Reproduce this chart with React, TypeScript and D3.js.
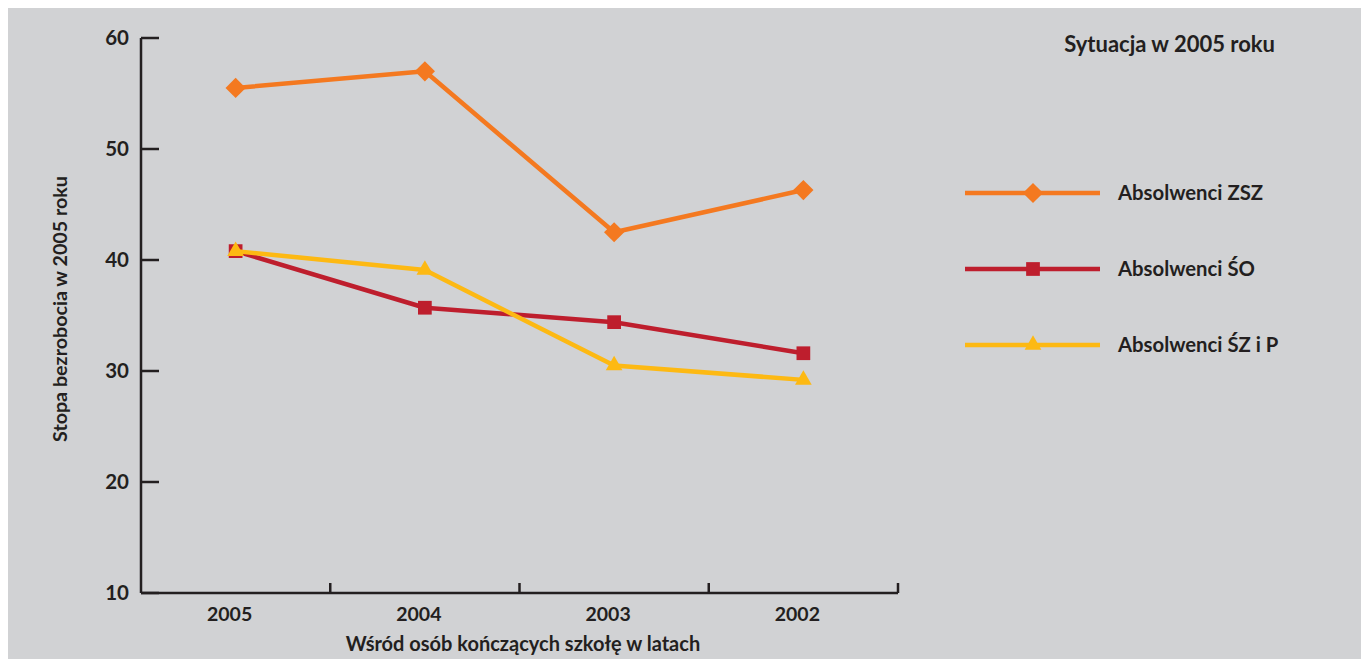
import React from "react";
import * as d3 from "d3";

const categories = ["2005", "2004", "2003", "2002"];
const yTicks = [10, 20, 30, 40, 50, 60];
const seriesNames = ["Absolwenci ZSZ", "Absolwenci ŚO", "Absolwenci ŚZ i P"];
const valuesZSZ = [55.5, 57.0, 42.5, 46.3];
const valuesSO = [40.8, 35.7, 34.4, 31.6];
const valuesSZP = [40.8, 39.1, 30.5, 29.2];
const colors = ["#f47920", "#be1e2d", "#fdb913"];
const symbols = [d3.symbolDiamond2, d3.symbolSquare2, d3.symbolTriangle2];

const W = 1361;
const H = 652;
const FONT = "Lato, 'Open Sans', sans-serif";
const INK = "#231f20";

export default function App() {
  // svg origin at page (8,7)
  const ox = 8, oy = 7;
  const x0 = 141 - ox, x1 = 898 - ox;
  const x = d3.scaleBand<string>().domain(categories).range([x0, x1]);
  const y = d3.scaleLinear().domain([10, 60]).range([593 - oy, 38 - oy]);
  const series = [valuesZSZ, valuesSO, valuesSZP];
  const line = d3
    .line<number>()
    .x((_, i) => (x(categories[i]) as number) + x.bandwidth() / 2)
    .y((v) => y(v));
  const symSizes = [260, 240, 200];
  const legendY = [193 - oy, 269 - oy, 345 - oy];
  return (
    <svg width={W} height={H} style={{ display: "block", marginTop: -1 }} fontFamily={FONT}>
      <rect x={0} y={0} width={W} height={H} fill="#d1d2d4" />
      {/* y axis */}
      <line x1={x0} x2={x0} y1={y(60)} y2={y(10)} stroke={INK} strokeWidth={2.5} />
      {yTicks.map((t) => (
        <g key={t}>
          <line x1={x0} x2={x0 + 18} y1={y(t)} y2={y(t)} stroke={INK} strokeWidth={2.5} />
          <text x={129 - ox} y={y(t)} dy="0.36em" textAnchor="end" fontSize={20.5} fontWeight={700} fill={INK}>
            {t}
          </text>
        </g>
      ))}
      {/* x axis */}
      <line x1={x0} x2={x1} y1={y(10)} y2={y(10)} stroke={INK} strokeWidth={2.5} />
      {categories.map((c, i) => (
        <g key={c}>
          {i > 0 && (
            <line x1={x(c)} x2={x(c)} y1={y(10)} y2={y(10) - 10} stroke={INK} strokeWidth={2.5} />
          )}
          <text
            x={(x(c) as number) + x.bandwidth() / 2 - 6}
            y={621 - oy}
            textAnchor="middle"
            fontSize={19.5}
            fontWeight={700}
            fill={INK}
          >
            {c}
          </text>
        </g>
      ))}
      <line x1={x1} x2={x1} y1={y(10)} y2={y(10) - 10} stroke={INK} strokeWidth={2.5} />
      <text x={523 - ox} y={651 - oy} textAnchor="middle" fontSize={20} fontWeight={700} fill={INK}>
        Wśród osób kończących szkołę w latach
      </text>
      <text
        transform={`translate(${67 - ox},${309 - oy}) rotate(-90)`}
        textAnchor="middle"
        fontSize={19.7}
        fontWeight={700}
        fill={INK}
      >
        Stopa bezrobocia w 2005 roku
      </text>
      {/* series */}
      {series.map((vals, si) => (
        <g key={si}>
          <path d={line(vals) as string} fill="none" stroke={colors[si]} strokeWidth={4.5} strokeLinejoin="round" />
          {vals.map((v, i) => (
            <path
              key={i}
              transform={`translate(${(x(categories[i]) as number) + x.bandwidth() / 2},${y(v)})`}
              d={d3.symbol(symbols[si], symSizes[si])() as string}
              fill={colors[si]}
            />
          ))}
        </g>
      ))}
      {/* legend */}
      <text x={1275 - ox} y={52 - oy} textAnchor="end" fontSize={22} fontWeight={700} fill={INK}>
        Sytuacja w 2005 roku
      </text>
      {seriesNames.map((name, si) => (
        <g key={name}>
          <line x1={965 - ox} x2={1100 - ox} y1={legendY[si]} y2={legendY[si]} stroke={colors[si]} strokeWidth={4.5} />
          <path
            transform={`translate(${1033 - ox},${legendY[si]})`}
            d={d3.symbol(symbols[si], symSizes[si])() as string}
            fill={colors[si]}
          />
          <text x={1118 - ox} y={legendY[si]} dy="0.36em" fontSize={20.3} fontWeight={700} fill={INK}>
            {name}
          </text>
        </g>
      ))}
    </svg>
  );
}
